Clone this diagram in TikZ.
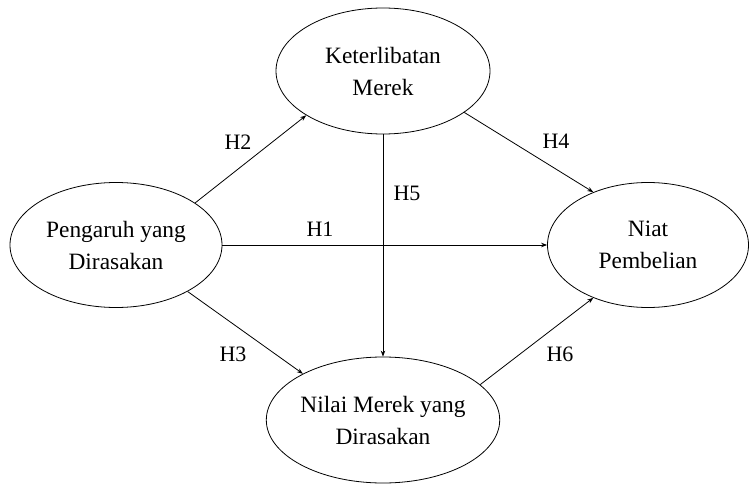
\documentclass[tikz,border=0pt]{standalone}
\usepackage{fontspec}
\setmainfont{Liberation Serif}
\usetikzlibrary{shapes.geometric,arrows.meta}
\begin{document}
\begin{tikzpicture}[x=1pt,y=-1pt,
  construct/.style={ellipse,draw,line width=0.8pt,inner sep=0pt,align=center,
    font=\fontsize{23.4}{32}\selectfont},
  path/.style={draw,line width=0.8pt,-{Stealth[length=6pt,width=4.5pt]}},
  hlabel/.style={font=\fontsize{22}{26}\selectfont,inner sep=0pt}]
\useasboundingbox (0,0) rectangle (752,484);
\node[construct,minimum width=214pt,minimum height=126pt] (K) at (383,71) {Keterlibatan\\Merek};
\node[construct,minimum width=212pt,minimum height=125pt] (P) at (116,245) {Pengaruh yang\\Dirasakan};
\node[construct,minimum width=201pt,minimum height=125pt] (N) at (648,245) {Niat\\Pembelian};
\node[construct,minimum width=214pt,minimum height=126pt] (V) at (383,420) {Nilai Merek yang\\Dirasakan};
\draw[path] (P.28) -- (K.210);
\draw[path] (K.333) -- (N.136.6);
\draw[path] (P.east) -- (N.west);
\draw[path] (P.-33.7) -- (V.150.8);
\draw[path] (V.20.3) -- (N.224);
\draw[path] (K.south) -- (V.north);
\node[hlabel] (h2) at (238,142) {H2};
\node[hlabel] (h4) at (556,141) {H4};
\node[hlabel] (h5) at (407,193) {H5};
\node[hlabel] (h1) at (320,229) {H1};
\node[hlabel] (h3) at (233,354) {H3};
\node[hlabel] (h6) at (560,354) {H6};
\end{tikzpicture}
\end{document}
